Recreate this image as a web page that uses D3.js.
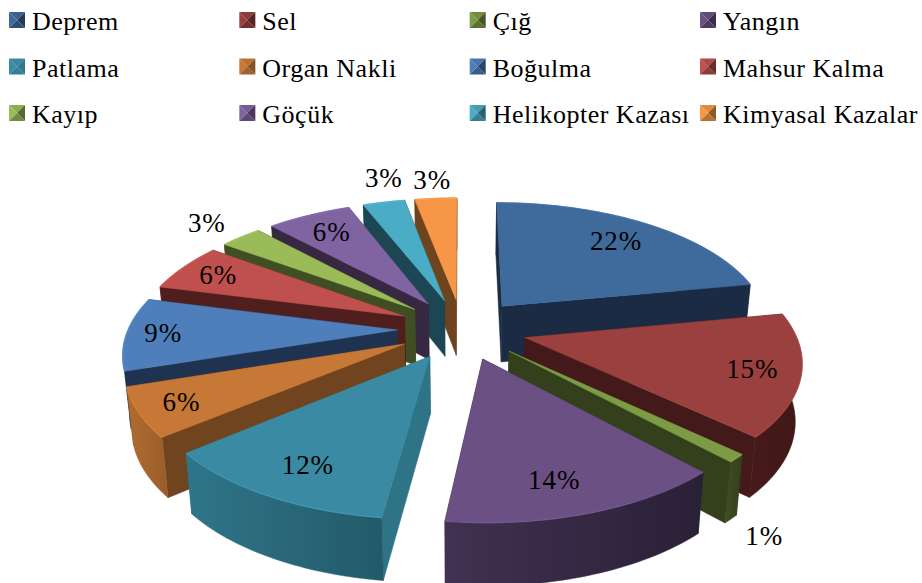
<!DOCTYPE html>
<html>
<head>
<meta charset="utf-8">
<script src="https://cdn.jsdelivr.net/npm/d3@7"></script>
<style>
  html, body { margin: 0; padding: 0; background: #fff; }
  svg { display: block; }
  text { font-family: "Liberation Serif", serif; font-size: 26px; letter-spacing: 0.5px; fill: #000; }
  .pct { font-size: 27px; letter-spacing: 0.9px; }
</style>
</head>
<body>
<div id="chart"></div>
<script>
// values
const categories = ['Deprem', 'Sel', 'Çığ', 'Yangın', 'Patlama', 'Organ Nakli', 'Boğulma', 'Mahsur Kalma', 'Kayıp', 'Göçük', 'Helikopter Kazası', 'Kimyasal Kazalar'];
const values = [22, 15, 1, 14, 12, 6, 9, 6, 3, 6, 3, 3];

const topColors = ['#3f6a9c', '#9a403e', '#7d9b44', '#6a5083', '#3b8aa3', '#c77836', '#4f7fbb', '#bf504e', '#9bbb59', '#8064a2', '#4bacc6', '#f79646'];
const wallColors = ['#1b2b44', '#43191a', '#343f1c', '#2b2239', '#2f7387', '#70441f', '#1f324f', '#4f1e1d', '#404f23', '#352840', '#1c4653', '#6e441e'];
const rimLeft = ['#2a4666', '#47191a', '#3f4f22', '#423152', '#2f7589', '#b06c30', '#3f6a9c', '#7a3231', '#5f7336', '#4d3c62', '#2e6c7d', '#a8642c'];
const rimRight = ['#1b2b44', '#3f1817', '#343f1c', '#292036', '#235a69', '#9a5d28', '#2a4666', '#5c2625', '#404f23', '#352840', '#1c4653', '#6e441e'];

// where each percent label sits: along its radius, plus a small turn in degrees
const labelRadius = [0.77, 0.83, 1.13, 0.8, 0.8, 0.85, 0.865, 0.835, 1.22, 0.79, 1.28, 1.21];
const labelTurn = [0, 0, 0, 2.5, -1, 0, 0, 0, 0, 0, 3, 0];
const labelOnFloor = [false, false, true, false, false, false, false, false, false, false, false, false];

const width = 922;
const height = 583;

const svg = d3.select('#chart').append('svg')
  .attr('width', width)
  .attr('height', height);
const defs = svg.append('defs');

// legend, three rows of four
const legendCol = d3.scalePoint().domain(d3.range(4)).range([9, 700]);
const legendRow = d3.scalePoint().domain(d3.range(3)).range([20, 113]);
const legend = svg.append('g').selectAll('g')
  .data(categories)
  .enter().append('g')
  .attr('transform', (d, i) => `translate(${legendCol(i % 4)}, ${legendRow(Math.floor(i / 4))})`);

const box = 8;
const tris = [
  { pts: [[-1, -1], [1, -1], [0, 0]], fill: (i) => d3.interpolateRgb(topColors[i], wallColors[i])(0.15) },
  { pts: [[-1, -1], [-1, 1], [0, 0]], fill: (i) => topColors[i] },
  { pts: [[1, -1], [1, 1], [0, 0]], fill: (i) => d3.interpolateRgb(topColors[i], wallColors[i])(0.75) },
  { pts: [[-1, 1], [1, 1], [0, 0]], fill: (i) => d3.interpolateRgb(topColors[i], wallColors[i])(0.45) },
];
tris.forEach((t) => {
  legend.append('path')
    .attr('d', `M${t.pts.map((p) => [box + p[0] * box, p[1] * box].join(',')).join('L')}Z`)
    .attr('fill', (d, i) => t.fill(i));
});
legend.append('text')
  .attr('x', 23)
  .attr('y', 10)
  .text((d) => d);

// 3d pie: world x to the right, z toward the viewer, radius 1
const cx = 462;
const cy = 329;
const explode = 0.24;
const scaleX = 269;
const scaleZ = 126.7;
const persp = 0.16;
const depth = 56.5;
const turn = 0;

const persScale = (z) => 1 / (1 - persp * z);
const project = ([x, z], down) => {
  const s = persScale(z);
  const px = cx + scaleX * x * s * (down ? 0.98 : 1);
  const py = cy + scaleZ * z * s + (down ? depth * Math.sqrt(s) : 0);
  return [px, py];
};

const pie = d3.pie().sort(null).startAngle(turn).endAngle(turn + 2 * Math.PI);
const arcs = pie(values);
const line = d3.line();

const slices = arcs.map((a, i) => {
  const mid = (a.startAngle + a.endAngle) / 2;
  const apex = [explode * Math.sin(mid), -explode * Math.cos(mid)];
  const at = (t, r) => [apex[0] + r * Math.sin(t), apex[1] - r * Math.cos(t)];
  const steps = Math.max(3, Math.round(a.value * 3));
  const rim = d3.range(steps + 1).map((k) => at(a.startAngle + (a.endAngle - a.startAngle) * k / steps, 1));
  return { i, mid, apex, at, rim };
});

const gradient = (s) => {
  const g = defs.append('linearGradient').attr('id', `rim${s.i}`);
  g.append('stop').attr('offset', '0%').attr('stop-color', rimLeft[s.i]);
  g.append('stop').attr('offset', '100%').attr('stop-color', rimRight[s.i]);
};

const meanZ = (pts) => d3.mean(pts, (p) => p[1]);

const drawSlice = (g, s) => {
  gradient(s);
  const first = s.rim[0];
  const last = s.rim[s.rim.length - 1];
  const faces = [
    { pts: [s.apex, first], fill: wallColors[s.i] },
    { pts: [s.apex, last], fill: wallColors[s.i] },
    { pts: s.rim, fill: `url(#rim${s.i})` },
  ];
  faces.sort((a, b) => meanZ(a.pts) - meanZ(b.pts));
  faces.forEach((f) => {
    const up = f.pts.map((p) => project(p, false));
    const low = f.pts.map((p) => project(p, true)).reverse();
    g.append('path')
      .attr('d', `${line(up.concat(low))}Z`)
      .attr('fill', f.fill)
      .attr('stroke', f.fill)
      .attr('stroke-width', 0.5);
  });
  const top = [s.apex].concat(s.rim).map((p) => project(p, false));
  g.append('path')
    .attr('d', `${line(top)}Z`)
    .attr('fill', topColors[s.i])
    .attr('stroke', topColors[s.i])
    .attr('stroke-width', 0.5);
  // soft bevel along the outer edge
  g.append('path')
    .attr('d', line(s.rim.map((p) => project(p, false))))
    .attr('fill', 'none')
    .attr('stroke', d3.color(topColors[s.i]).brighter(0.35))
    .attr('stroke-opacity', 0.6)
    .attr('stroke-width', 1.5);
};

const pieG = svg.append('g');
slices.slice()
  .sort((a, b) => meanZ([a.apex].concat(a.rim)) - meanZ([b.apex].concat(b.rim)))
  .forEach((s) => drawSlice(pieG.append('g'), s));

// percent labels
const labelPos = (s) => project(
  s.at(s.mid + labelTurn[s.i] * Math.PI / 180, labelRadius[s.i]),
  labelOnFloor[s.i],
);
svg.append('g').selectAll('text')
  .data(slices)
  .enter().append('text')
  .attr('class', 'pct')
  .attr('text-anchor', 'middle')
  .attr('x', (s) => labelPos(s)[0])
  .attr('y', (s) => labelPos(s)[1] + 9)
  .text((s) => `${values[s.i]}%`);
</script>
</body>
</html>
